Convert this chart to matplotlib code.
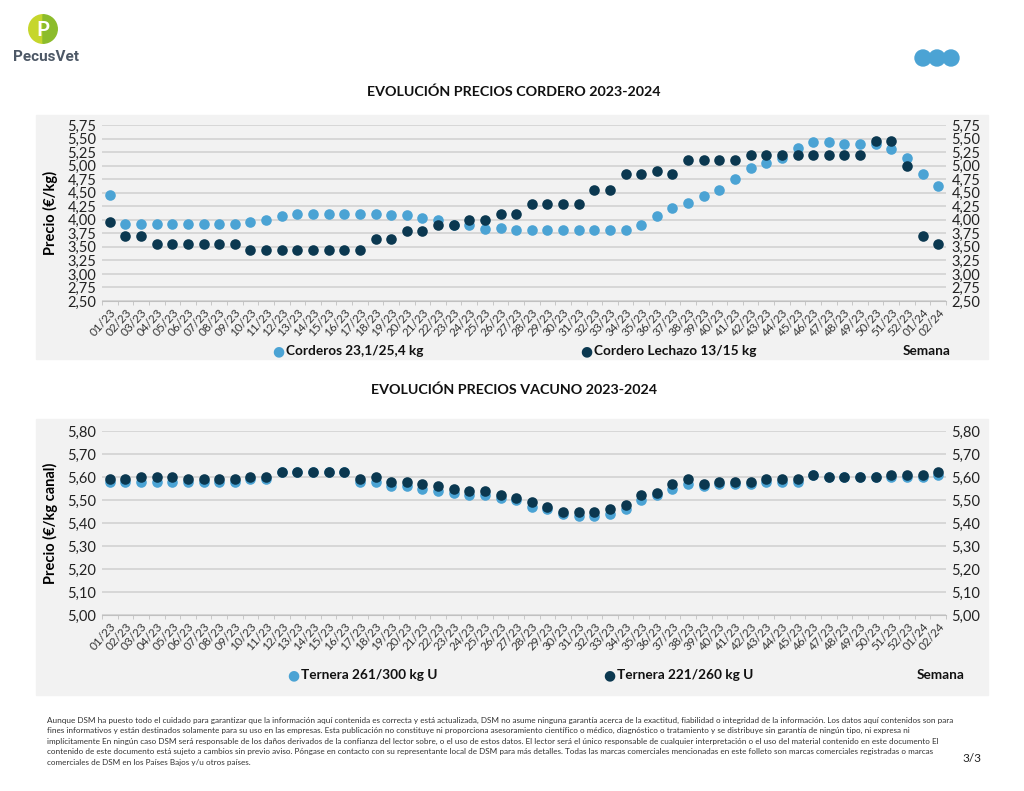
import matplotlib.pyplot as plt
from matplotlib.patches import Rectangle, Circle, Wedge

W, H = 1024, 791
LIGHT = "#4ba3d4"
DARK = "#0b3850"
PANEL = "#f2f2f2"
GRID = "#d2d2d2"
FONT = ["Lato", "DejaVu Sans"]

weeks = [f"{i:02d}/23" for i in range(1, 53)] + ["01/24", "02/24"]

corderos = [4.45, 3.93, 3.93, 3.93, 3.93, 3.93, 3.93, 3.93, 3.93, 3.96,
            4.00, 4.07, 4.10, 4.10, 4.10, 4.10, 4.10, 4.10, 4.09, 4.09,
            4.03, 4.00, 3.91, 3.90, 3.83, 3.85, 3.82, 3.82, 3.82, 3.82,
            3.82, 3.82, 3.82, 3.82, 3.91, 4.07, 4.22, 4.31, 4.43, 4.55,
            4.75, 4.95, 5.05, 5.14, 5.32, 5.44, 5.44, 5.40, 5.40, 5.39,
            5.30, 5.14, 4.84, 4.63]
lechazo = [3.95, 3.70, 3.70, 3.55, 3.55, 3.55, 3.55, 3.55, 3.55, 3.45,
           3.45, 3.45, 3.45, 3.45, 3.45, 3.45, 3.45, 3.65, 3.65, 3.80,
           3.80, 3.91, 3.91, 4.00, 4.00, 4.10, 4.10, 4.30, 4.30, 4.30,
           4.30, 4.55, 4.55, 4.85, 4.85, 4.90, 4.85, 5.10, 5.10, 5.10,
           5.10, 5.20, 5.20, 5.20, 5.20, 5.20, 5.20, 5.20, 5.20, 5.45,
           5.45, 5.00, 3.70, 3.55]

ternera_261 = [5.58, 5.58, 5.58, 5.58, 5.58, 5.58, 5.58, 5.58, 5.58, 5.59,
               5.59, 5.62, 5.62, 5.62, 5.62, 5.62, 5.58, 5.58, 5.56, 5.56,
               5.55, 5.54, 5.53, 5.52, 5.52, 5.51, 5.50, 5.47, 5.46, 5.44,
               5.43, 5.43, 5.44, 5.46, 5.50, 5.52, 5.55, 5.57, 5.56, 5.57,
               5.57, 5.57, 5.58, 5.58, 5.58, 5.61, 5.60, 5.60, 5.60, 5.60,
               5.60, 5.60, 5.60, 5.61]
ternera_221 = [5.59, 5.59, 5.60, 5.60, 5.60, 5.59, 5.59, 5.59, 5.59, 5.60,
               5.60, 5.62, 5.62, 5.62, 5.62, 5.62, 5.59, 5.60, 5.58, 5.58,
               5.57, 5.56, 5.55, 5.54, 5.54, 5.52, 5.51, 5.49, 5.47, 5.45,
               5.45, 5.45, 5.46, 5.48, 5.52, 5.53, 5.57, 5.59, 5.57, 5.58,
               5.58, 5.58, 5.59, 5.59, 5.59, 5.61, 5.60, 5.60, 5.60, 5.60,
               5.61, 5.61, 5.61, 5.62]

cordero_ticks = [2.50, 2.75, 3.00, 3.25, 3.50, 3.75, 4.00, 4.25, 4.50,
                 4.75, 5.00, 5.25, 5.50, 5.75]
vacuno_ticks = [5.00, 5.10, 5.20, 5.30, 5.40, 5.50, 5.60, 5.70, 5.80]

disclaimer = [
    "Aunque DSM ha puesto todo el cuidado para garantizar que la información aquí contenida es correcta y está actualizada, DSM no asume ninguna garantía acerca de la exactitud, fiabilidad o integridad de la información. Los datos aquí contenidos son para",
    "fines informativos y están destinados solamente para su uso en las empresas. Esta publicación no constituye ni proporciona asesoramiento científico o médico, diagnóstico o tratamiento y se distribuye sin garantía de ningún tipo, ni expresa ni",
    "implícitamente En ningún caso DSM será responsable de los daños derivados de la confianza del lector sobre, o el uso de estos datos. El lector será el único responsable de cualquier interpretación o el uso del material contenido en este documento El",
    "contenido de este documento está sujeto a cambios sin previo aviso. Póngase en contacto con su representante local de DSM para más detalles. Todas las marcas comerciales mencionadas en este folleto son marcas comerciales registradas o marcas",
    "comerciales de DSM en los Países Bajos y/u otros países.",
]

plt.rcParams["font.family"] = FONT


def fx(px):
    return px / W


def fy(py):
    return 1 - py / H


def draw_chart(fig, top, bottom, panel_top, panel_bottom, title, title_y,
               s1, s2, names, ticks, fmt, ylabel, legend_y, legend_x):
    fig.patches.append(Rectangle((fx(36), fy(panel_bottom)), fx(988 - 36),
                                 (panel_bottom - panel_top) / H,
                                 transform=fig.transFigure, color=PANEL,
                                 zorder=-10))
    fig.text(fx(514), fy(title_y), title, ha="center", va="center",
             fontsize=10.3, fontweight="bold", color="#111111")

    ax = fig.add_axes([fx(102), fy(bottom), fx(946 - 102),
                       (bottom - top) / H])
    ax.set_facecolor(PANEL)
    x = range(len(weeks))
    ax.scatter(x, s1, s=58, color=LIGHT, zorder=3, linewidths=0)
    ax.scatter(x, s2, s=58, color=DARK, zorder=4, linewidths=0)
    ax.set_xlim(-0.5, len(weeks) - 0.5)
    ax.set_ylim(ticks[0], ticks[-1])
    ax.set_yticks(ticks)
    ax.set_yticklabels([fmt.format(t).replace(".", ",") for t in ticks])
    ax.yaxis.grid(True, color=GRID, lw=1.2)
    ax.set_axisbelow(True)
    ax.tick_params(axis="y", length=0, labelsize=10.5, colors="#222222",
                   labelright=True, pad=4)
    ax.set_xticks(list(x))
    ax.set_xticklabels(weeks, rotation=48, ha="right", va="top",
                       rotation_mode="anchor", fontsize=8.5, color="#333333")
    ax.set_xticks([i - 0.5 for i in range(len(weeks) + 1)], minor=True)
    ax.tick_params(axis="x", which="major", length=0, pad=4)
    ax.tick_params(axis="x", which="minor", length=3, color="#c0c0c0")
    for side in ["top", "left", "right"]:
        ax.spines[side].set_visible(False)
    ax.spines["bottom"].set_color("#c0c0c0")
    ax.set_ylabel(ylabel, fontsize=10.5, fontweight="bold", labelpad=7)

    for name, col, lx in zip(names, [LIGHT, DARK], legend_x):
        fig.text(fx(lx), fy(legend_y), "●", color=col, fontsize=10,
                 ha="center", va="center", family="DejaVu Sans")
        fig.text(fx(lx + 8), fy(legend_y), name, fontsize=9.8,
                 fontweight="bold", ha="left", va="center", color="#111111")
    fig.text(fx(legend_x[2]), fy(legend_y), "Semana", fontsize=9.8,
             fontweight="bold", ha="right", va="center", color="#111111")
    return ax


fig = plt.figure(figsize=(W / 100, H / 100), dpi=100)
fig.patch.set_facecolor("white")

draw_chart(fig, 125, 301, 115, 359,
           "EVOLUCIÓN PRECIOS CORDERO 2023-2024", 92,
           corderos, lechazo,
           ["Corderos 23,1/25,4 kg", "Cordero Lechazo 13/15 kg"],
           cordero_ticks, "{:.2f}", "Precio (€/kg)", 351, [278, 586, 951])

draw_chart(fig, 431, 615, 419, 695,
           "EVOLUCIÓN PRECIOS VACUNO 2023-2024", 390,
           ternera_261, ternera_221,
           ["Ternera 261/300 kg U", "Ternera 221/260 kg U"],
           vacuno_ticks, "{:.2f}", "Precio (€/kg canal)", 675,
           [293, 609, 965])

# logo PecusVet
logo = fig.add_axes([fx(28), fy(44), fx(30), 30 / H])
logo.set_xlim(-1, 1)
logo.set_ylim(-1, 1)
logo.set_aspect("equal")
logo.axis("off")
logo.add_patch(Wedge((0, 0), 0.95, 90, 270, color="#c6d62c"))
logo.add_patch(Wedge((0, 0), 0.95, -90, 90, color="#8cbc2b"))
logo.text(0, -0.05, "P", ha="center", va="center", color="white",
          fontsize=15, fontweight="bold")
fig.text(fx(13), fy(57), "PecusVet", fontsize=11, fontweight="bold",
         color="#4d5866", ha="left", va="center", family="Roboto")

# dots on the top-right
dots = fig.add_axes([fx(910), fy(68), fx(52), 20 / H])
dots.set_xlim(0, 52)
dots.set_ylim(0, 20)
dots.set_aspect("equal")
dots.axis("off")
for cx in [13, 27, 41]:
    dots.add_patch(Circle((cx, 10), 8, color=LIGHT))

for i, line in enumerate(disclaimer):
    fig.text(fx(47), fy(720 + i * 10.5), line, fontsize=5.85,
             color="#333333", ha="left", va="center")
fig.text(fx(981), fy(759), "3/3", fontsize=8.5, color="#222222",
         ha="right", va="center")

fig.savefig("out.png", dpi=100)
